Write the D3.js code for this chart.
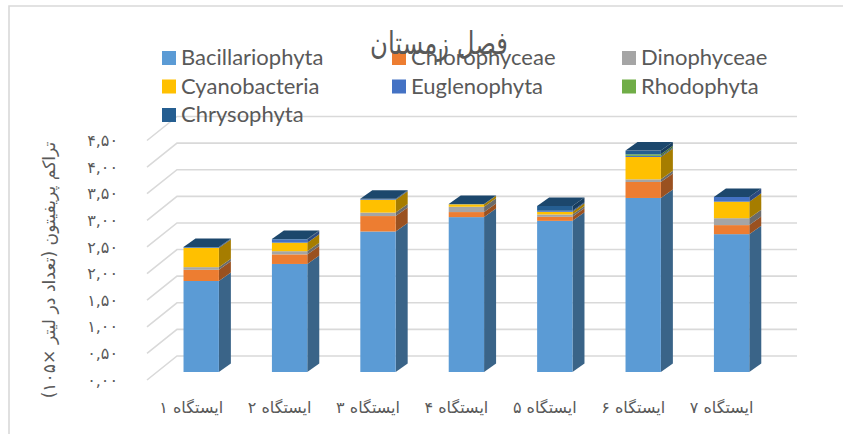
<!DOCTYPE html>
<html><head><meta charset="utf-8">
<script src="https://cdn.jsdelivr.net/npm/d3@7"></script>
<style>html,body{margin:0;background:#fff}svg{display:block}</style></head>
<body><svg width="843" height="434"></svg>
<script>
const categories = ["ایستگاه ۱","ایستگاه ۲","ایستگاه ۳","ایستگاه ۴","ایستگاه ۵","ایستگاه ۶","ایستگاه ۷"];
const seriesNames = ["Bacillariophyta","Chlorophyceae","Dinophyceae","Cyanobacteria","Euglenophyta","Rhodophyta","Chrysophyta"];
const Bacillariophyta = [1.71,2.03,2.64,2.91,2.84,3.27,2.59];
const Chlorophyceae   = [0.21,0.18,0.29,0.095,0.075,0.30,0.17];
const Dinophyceae     = [0.05,0.06,0.065,0.10,0.045,0.05,0.13];
const Cyanobacteria   = [0.36,0.16,0.24,0.045,0.05,0.42,0.31];
const Euglenophyta    = [0.01,0.06,0.01,0.00,0.02,0.02,0.09];
const Rhodophyta      = [0.00,0.00,0.00,0.00,0.00,0.03,0.00];
const Chrysophyta     = [0.01,0.01,0.01,0.005,0.09,0.07,0.00];
const seriesValues = [Bacillariophyta,Chlorophyceae,Dinophyceae,Cyanobacteria,Euglenophyta,Rhodophyta,Chrysophyta];
const yTicks = [0,0.5,1,1.5,2,2.5,3,3.5,4,4.5];
const yTickLabels = ["۰,۰۰","۰,۵۰","۱,۰۰","۱,۵۰","۲,۰۰","۲,۵۰","۳,۰۰","۳,۵۰","۴,۰۰","۴,۵۰"];
const frontColors = ["#5b9bd5","#ed7d31","#a5a5a5","#ffc000","#4472c4","#70ad47","#255e91"];
const sideColors  = ["#3a6488","#9a5120","#6b6b6b","#a67d00","#2c4a80","#49702e","#183d5e"];
const topColor = "#1c476c";
const titleText = "فصل زمستان";
const yTitle = "تراکم پریفیتون (تعداد در لیتر ×۱۰۵)";

const svg = d3.select("svg");
const arabic = "'DejaVu Sans','Noto Sans',sans-serif";
const textCol = "#595959";

// frame
svg.append("path").attr("d","M843,6H9V434").attr("fill","none").attr("stroke","#d9d9d9").attr("stroke-width",1.6);

const x = d3.scaleBand().domain(categories).range([157,775.8]).paddingInner(0.6).paddingOuter(0.3);
const y = d3.scaleLinear().domain([0,4.5]).range([372,132.5]);
const floorF = 8, floorB = -16, frontX = 147;
const depthX = 12, depthY = -8.5;

// gridlines
svg.append("g").selectAll("path").data(yTicks).join("path")
  .attr("d",v=>{const p=d3.path();p.moveTo(frontX,y(v)+floorF);p.lineTo(frontX+30,y(v)+floorB);p.lineTo(frontX+650,y(v)+floorB);return p.toString();})
  .attr("fill","none").attr("stroke","#d9d9d9").attr("stroke-width",1.6);

// stacked 3D bars
const rows = categories.map((c,i)=>{const o={cat:c};seriesNames.forEach((s,k)=>o[s]=seriesValues[k][i]);return o;});
const stacked = d3.stack().keys(seriesNames)(rows);
const bw = x.bandwidth();
const bars = svg.append("g");
stacked.forEach((layer,k)=>{
  const g = bars.append("g");
  g.selectAll("path.side").data(layer).join("path").attr("class","side")
    .attr("fill",sideColors[k])
    .attr("d",d=>{const r=x(d.data.cat)+bw,a=y(d[0]),b=y(d[1]);return `M${r},${a}L${r+depthX},${a+depthY}L${r+depthX},${b+depthY}L${r},${b}Z`;});
  g.selectAll("rect").data(layer).join("rect")
    .attr("x",d=>x(d.data.cat)).attr("width",bw)
    .attr("y",d=>y(d[1])).attr("height",d=>y(d[0])-y(d[1]))
    .attr("fill",frontColors[k]);
});
bars.append("g").selectAll("path").data(stacked[stacked.length-1]).join("path")
  .attr("fill",topColor)
  .attr("d",d=>{const l=x(d.data.cat),t=y(d[1]);return `M${l},${t}L${l+depthX},${t+depthY}L${l+bw+depthX},${t+depthY}L${l+bw},${t}Z`;});

// y axis
const yAxis = svg.append("g").attr("transform",`translate(${frontX},${floorF})`)
  .call(d3.axisLeft(y).tickValues(yTicks).tickSize(0).tickPadding(29).tickFormat((d,i)=>yTickLabels[i]));
yAxis.select(".domain").remove();
yAxis.selectAll("text").attr("font-family",arabic).attr("font-size",16).attr("fill",textCol).attr("direction","ltr");

// x axis
const xAxis = svg.append("g").attr("transform",`translate(-10,402)`)
  .call(d3.axisBottom(x).tickSize(0).tickPadding(0));
xAxis.select(".domain").remove();
xAxis.selectAll("text").attr("font-family",arabic).attr("font-size",16).attr("fill",textCol).attr("direction","rtl");

// axis title
svg.append("text").attr("transform","translate(55,270) rotate(-90)")
  .attr("text-anchor","middle").attr("direction","rtl")
  .attr("font-family",arabic).attr("font-size",17.2).attr("fill",textCol).text(yTitle);

// legend
const legX = d3.scalePoint().domain([0,1,2]).range([162,622]);
const legY = d3.scalePoint().domain([0,1,2]).range([51,108]);
const leg = svg.append("g").selectAll("g").data(seriesNames).join("g")
  .attr("transform",(d,i)=>`translate(${legX(i%3)},${legY(Math.floor(i/3))})`);
leg.append("rect").attr("width",14).attr("height",14).attr("fill",(d,i)=>frontColors[i]);
leg.append("text").attr("x",19).attr("y",14).attr("font-family","Lato,sans-serif").attr("font-size",22)
  .attr("fill",textCol).text(d=>d);

// chart title
svg.append("text").attr("transform","translate(439,54) scale(0.9,1.15)").attr("text-anchor","middle").attr("direction","rtl")
  .attr("font-family",arabic).attr("font-size",27).attr("fill",textCol).text(titleText);
</script></body></html>
